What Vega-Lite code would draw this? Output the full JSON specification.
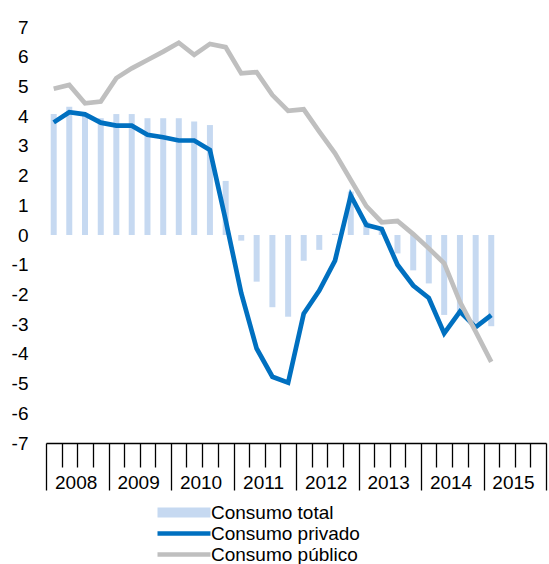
{
  "$schema": "https://vega.github.io/schema/vega-lite/v6.json",
  "width": 500,
  "height": 416,
  "autosize": {"type": "none"},
  "padding": {"left": 46, "top": 27, "right": 3, "bottom": 121},
  "config": {"view": {"stroke": null}, "font": "Liberation Sans", "axisY": {"labelOverlap": false}},
  "data": {
    "values": [
      {"fecha": "2008-02-15T00:00:00", "total": 4.07, "privado": 3.79, "publico": 4.92},
      {"fecha": "2008-05-16T00:00:00", "total": 4.32, "privado": 4.13, "publico": 5.05},
      {"fecha": "2008-08-16T00:00:00", "total": 4.10, "privado": 4.06, "publico": 4.43},
      {"fecha": "2008-11-16T00:00:00", "total": 3.93, "privado": 3.78, "publico": 4.49},
      {"fecha": "2009-02-15T00:00:00", "total": 4.07, "privado": 3.68, "publico": 5.28},
      {"fecha": "2009-05-16T00:00:00", "total": 4.07, "privado": 3.68, "publico": 5.61},
      {"fecha": "2009-08-16T00:00:00", "total": 3.93, "privado": 3.37, "publico": 5.89},
      {"fecha": "2009-11-16T00:00:00", "total": 3.93, "privado": 3.29, "publico": 6.17},
      {"fecha": "2010-02-15T00:00:00", "total": 3.93, "privado": 3.18, "publico": 6.47},
      {"fecha": "2010-05-16T00:00:00", "total": 3.82, "privado": 3.18, "publico": 6.06},
      {"fecha": "2010-08-16T00:00:00", "total": 3.70, "privado": 2.86, "publico": 6.43},
      {"fecha": "2010-11-16T00:00:00", "total": 1.82, "privado": 0.50, "publico": 6.32},
      {"fecha": "2011-02-15T00:00:00", "total": -0.19, "privado": -1.96, "publico": 5.44},
      {"fecha": "2011-05-16T00:00:00", "total": -1.57, "privado": -3.82, "publico": 5.48},
      {"fecha": "2011-08-16T00:00:00", "total": -2.43, "privado": -4.77, "publico": 4.71},
      {"fecha": "2011-11-16T00:00:00", "total": -2.75, "privado": -4.97, "publico": 4.18},
      {"fecha": "2012-02-15T00:00:00", "total": -0.87, "privado": -2.65, "publico": 4.23},
      {"fecha": "2012-05-16T00:00:00", "total": -0.50, "privado": -1.87, "publico": 3.48},
      {"fecha": "2012-08-16T00:00:00", "total": 0.04, "privado": -0.86, "publico": 2.75},
      {"fecha": "2012-11-16T00:00:00", "total": 1.46, "privado": 1.33, "publico": 1.85},
      {"fecha": "2013-02-15T00:00:00", "total": 0.45, "privado": 0.34, "publico": 0.97},
      {"fecha": "2013-05-16T00:00:00", "total": 0.20, "privado": 0.20, "publico": 0.43},
      {"fecha": "2013-08-16T00:00:00", "total": -0.62, "privado": -1.00, "publico": 0.47},
      {"fecha": "2013-11-16T00:00:00", "total": -1.19, "privado": -1.70, "publico": 0.03},
      {"fecha": "2014-02-15T00:00:00", "total": -1.63, "privado": -2.12, "publico": -0.45},
      {"fecha": "2014-05-16T00:00:00", "total": -2.69, "privado": -3.31, "publico": -0.95},
      {"fecha": "2014-08-16T00:00:00", "total": -2.60, "privado": -2.58, "publico": -2.25},
      {"fecha": "2014-11-16T00:00:00", "total": -2.95, "privado": -3.10, "publico": -3.25},
      {"fecha": "2015-02-15T00:00:00", "total": -3.07, "privado": -2.70, "publico": -4.27}
    ]
  },
  "layer": [
    {
      "mark": {"type": "bar", "size": 6},
      "encoding": {
        "x": {
          "field": "fecha",
          "type": "temporal",
          "scale": {"domain": [{"year": 2008, "month": 1, "date": 1}, {"year": 2016, "month": 1, "date": 1}], "nice": false, "padding": 0},
          "axis": {
            "title": null,
            "grid": false,
            "tickCount": {"interval": "month", "step": 3},
            "tickSize": {"condition": {"test": "month(datum.value) === 0", "value": 47}, "value": 24},
            "tickColor": "black",
            "tickWidth": 1.3,
            "domainColor": "black",
            "domainWidth": 1.5,
            "labelExpr": "month(datum.value) === 6 ? timeFormat(datum.value, '%Y') : ''",
            "labelFontSize": 19,
            "labelColor": "black",
            "labelPadding": 6,
            "labelOffset": -1.5,
            "labelOverlap": false,
            "labelBound": false,
            "labelFlush": false
          }
        },
        "y": {
          "field": "total",
          "type": "quantitative",
          "scale": {"domain": [-7, 7], "nice": false, "zero": false, "padding": 0},
          "axis": {
            "title": null,
            "grid": false,
            "domain": false,
            "ticks": false,
            "tickCount": 15,
            "values": [-7, -6, -5, -4, -3, -2, -1, 0, 1, 2, 3, 4, 5, 6, 7],
            "labelExpr": "'' + datum.value",
            "labelOverlap": false,
            "labelFontSize": 19,
            "labelColor": "black",
            "labelPadding": 18
          }
        },
        "color": {
          "datum": "Consumo total",
          "scale": {
            "domain": ["Consumo total", "Consumo privado", "Consumo público"],
            "range": ["#C6D9F1", "#0070C0", "#BFBFBF"]
          },
          "legend": {
            "title": null,
            "orient": "none",
            "legendX": 102,
            "legendY": 476,
            "direction": "vertical",
            "padding": 0,
            "labelFontSize": 19,
            "labelColor": "black",
            "labelOffset": 44,
            "labelLimit": 400,
            "symbolSize": 100,
            "rowPadding": 1,
            "encode": {
              "symbols": {
                "update": {
                  "shape": {"signal": "datum.value === 'Consumo total' ? 'M0,-1H10.6V1H0Z' : 'M0,-0.45H10.6V0.45H0Z'"},
                  "fill": {"signal": "scale('color', datum.value)"},
                  "stroke": {"value": "transparent"},
                  "strokeWidth": {"value": 0},
                  "opacity": {"value": 1},
                  "fillOpacity": {"value": 1}
                }
              }
            }
          }
        }
      }
    },
    {
      "mark": {"type": "line", "strokeWidth": 4.7},
      "encoding": {
        "x": {"field": "fecha", "type": "temporal"},
        "y": {"field": "privado", "type": "quantitative"},
        "color": {"datum": "Consumo privado"}
      }
    },
    {
      "mark": {"type": "line", "strokeWidth": 4.7},
      "encoding": {
        "x": {"field": "fecha", "type": "temporal"},
        "y": {"field": "publico", "type": "quantitative"},
        "color": {"datum": "Consumo público"}
      }
    }
  ]
}
